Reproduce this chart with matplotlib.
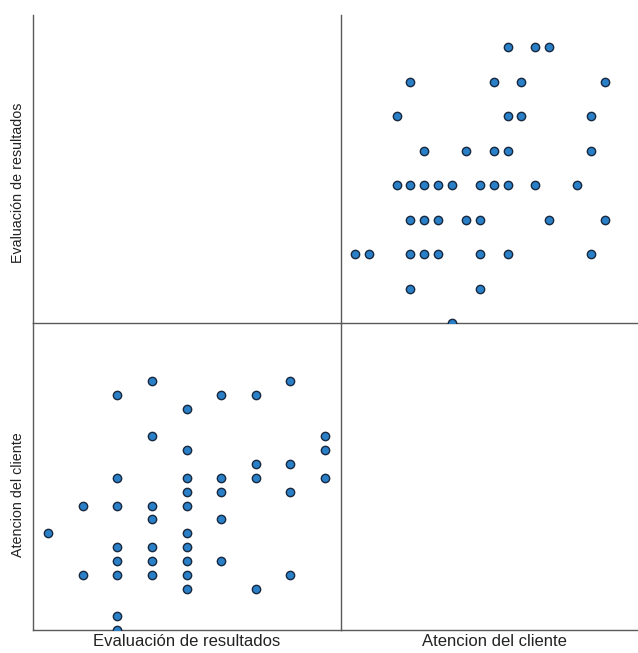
import matplotlib
matplotlib.use("Agg")
import matplotlib.pyplot as plt
import numpy as np

plt.rcParams['font.family'] = ['Liberation Sans', 'DejaVu Sans']

# Evaluacion de resultados (levels 1..9) and Atencion del cliente (levels 0..18)
eval_lvl = [1,
            2, 2,
            3, 3, 3, 3, 3, 3, 3, 3,
            4, 4, 4, 4, 4, 4, 4,
            5, 5, 5, 5, 5, 5, 5, 5, 5, 5,
            6, 6, 6, 6, 6,
            7, 7, 7, 7,
            8, 8, 8, 8,
            9, 9, 9]
aten_lvl = [7,
            4, 9,
            0, 1, 4, 5, 6, 9, 11, 17,
            4, 5, 6, 8, 9, 14, 18,
            3, 4, 5, 6, 7, 9, 10, 11, 13, 16,
            5, 8, 10, 11, 17,
            3, 11, 12, 17,
            4, 10, 12, 18,
            11, 13, 14]

labels = ["Evaluación de resultados", "Atencion del cliente"]

W, H = 638, 653
fig = plt.figure(figsize=(W / 100, H / 100), dpi=100)

def px_axes(x0, y0, x1, y1):
    return fig.add_axes([x0 / W, 1 - y1 / H, (x1 - x0) / W, (y1 - y0) / H])

LINE = '#5a5a5a'
FACE = '#2a80c8'
EDGE = '#18283f'

# panels: top-left, top-right, bottom-left, bottom-right
ax_tl = px_axes(33, 15, 341, 323)
ax_tr = px_axes(341, 15, 638, 323)
ax_bl = px_axes(33, 323, 341, 630)
ax_br = px_axes(341, 323, 638, 630)

for ax in (ax_tl, ax_tr, ax_bl, ax_br):
    ax.set_xticks([])
    ax.set_yticks([])
    ax.patch.set_alpha(0)
    for s in ax.spines.values():
        s.set_color(LINE)
        s.set_linewidth(1.0)
    ax.spines['top'].set_visible(False)
    ax.spines['right'].set_visible(False)

ax_tl.spines['right'].set_visible(True)
ax_tr.spines['left'].set_visible(False)
ax_br.spines['left'].set_visible(True)
ax_br.spines['bottom'].set_visible(True)

# top-right: x = Atencion, y = Evaluacion
ax_tr.scatter(aten_lvl, eval_lvl, s=36, c=FACE, edgecolors=EDGE, linewidths=1.0, zorder=3)
ax_tr.set_xlim(-1.0, 20.4)
ax_tr.set_ylim(1.0, 9.93)

# bottom-left: x = Evaluacion, y = Atencion
ax_bl.scatter(eval_lvl, aten_lvl, s=36, c=FACE, edgecolors=EDGE, linewidths=1.0, zorder=3)
ax_bl.set_xlim(0.56, 9.46)
ax_bl.set_ylim(0.0, 22.2)

fig.text(187 / W, 1 - 641 / H, labels[0], ha='center', va='center', fontsize=12, color='#222222')
fig.text(494 / W, 1 - 641 / H, labels[1], ha='center', va='center', fontsize=12, color='#222222')
fig.text(18 / W, 1 - 183 / H, labels[0], ha='center', va='center', rotation=90, fontsize=10.3, color='#222222')
fig.text(18 / W, 1 - 495 / H, labels[1], ha='center', va='center', rotation=90, fontsize=10.3, color='#222222')

fig.savefig("out.png", dpi=100)
